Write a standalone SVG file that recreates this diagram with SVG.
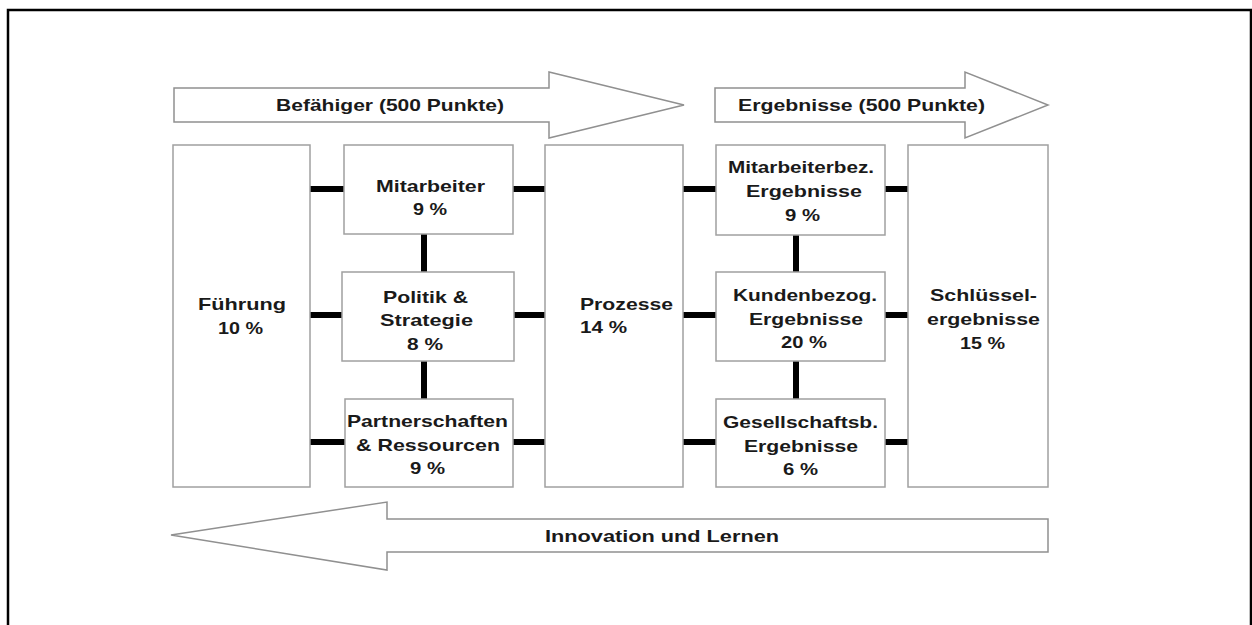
<svg xmlns="http://www.w3.org/2000/svg" width="1252" height="625" viewBox="0 0 1252 625">
<style>
.box{fill:#fff;stroke:#a0a0a0;stroke-width:1.5}
.arr{fill:#fff;stroke:#909090;stroke-width:1.5}
.con{stroke:#000;stroke-width:6;fill:none}
text{font-family:"Liberation Sans",Arial,sans-serif;font-weight:bold;font-size:17px;fill:#1a1a1a}
</style>
<rect width="1252" height="625" fill="#fff"/>
<path d="M8,626 V10 H1251 V626" fill="none" stroke="#000" stroke-width="2.5"/>

<g id="arrow-befaehiger">
<polygon class="arr" points="174,88 549,88 549,72 684,105 549,138 549,122 174,122"/>
<text x="276" y="111" textLength="228" lengthAdjust="spacingAndGlyphs">Befähiger (500 Punkte)</text>
</g>
<g id="arrow-ergebnisse">
<polygon class="arr" points="715,88 965,88 965,72 1048,105 965,138 965,122 715,122"/>
<text x="738" y="111" textLength="247" lengthAdjust="spacingAndGlyphs">Ergebnisse (500 Punkte)</text>
</g>
<g id="arrow-innovation">
<polygon class="arr" points="1048,519 387,519 387,502 171,535 387,570 387,552 1048,552"/>
<text x="545" y="542" textLength="234" lengthAdjust="spacingAndGlyphs">Innovation und Lernen</text>
</g>

<g id="connectors">
<line class="con" x1="310" y1="189" x2="344" y2="189"/>
<line class="con" x1="310" y1="315" x2="342" y2="315"/>
<line class="con" x1="310" y1="442" x2="345" y2="442"/>
<line class="con" x1="513" y1="189" x2="545" y2="189"/>
<line class="con" x1="514" y1="315" x2="545" y2="315"/>
<line class="con" x1="513" y1="442" x2="545" y2="442"/>
<line class="con" x1="424" y1="234" x2="424" y2="272"/>
<line class="con" x1="424" y1="361" x2="424" y2="399"/>
<line class="con" x1="683" y1="189" x2="716" y2="189"/>
<line class="con" x1="683" y1="315" x2="716" y2="315"/>
<line class="con" x1="683" y1="442" x2="716" y2="442"/>
<line class="con" x1="885" y1="189" x2="908" y2="189"/>
<line class="con" x1="885" y1="315" x2="908" y2="315"/>
<line class="con" x1="885" y1="442" x2="908" y2="442"/>
<line class="con" x1="796" y1="235" x2="796" y2="272"/>
<line class="con" x1="796" y1="361" x2="796" y2="399"/>
</g>

<g id="fuehrung">
<rect class="box" x="173" y="145" width="137" height="342"/>
<text x="198" y="310" textLength="88" lengthAdjust="spacingAndGlyphs">Führung</text>
<text x="218" y="334" textLength="45" lengthAdjust="spacingAndGlyphs">10 %</text>
</g>
<g id="mitarbeiter">
<rect class="box" x="344" y="145" width="169" height="89"/>
<text x="376" y="192" textLength="109" lengthAdjust="spacingAndGlyphs">Mitarbeiter</text>
<text x="413" y="215" textLength="34" lengthAdjust="spacingAndGlyphs">9 %</text>
</g>
<g id="politik">
<rect class="box" x="342" y="272" width="172" height="89"/>
<text x="383" y="303" textLength="85" lengthAdjust="spacingAndGlyphs">Politik &amp;</text>
<text x="380" y="326" textLength="93" lengthAdjust="spacingAndGlyphs">Strategie</text>
<text x="407" y="350" textLength="36" lengthAdjust="spacingAndGlyphs">8 %</text>
</g>
<g id="partnerschaften">
<rect class="box" x="345" y="399" width="168" height="88"/>
<text x="347" y="427" textLength="161" lengthAdjust="spacingAndGlyphs">Partnerschaften</text>
<text x="356" y="451" textLength="144" lengthAdjust="spacingAndGlyphs">&amp; Ressourcen</text>
<text x="410" y="474" textLength="35" lengthAdjust="spacingAndGlyphs">9 %</text>
</g>
<g id="prozesse">
<rect class="box" x="545" y="145" width="138" height="342"/>
<text x="580" y="310" textLength="93" lengthAdjust="spacingAndGlyphs">Prozesse</text>
<text x="580" y="333" textLength="47" lengthAdjust="spacingAndGlyphs">14 %</text>
</g>
<g id="mitarbeiterbez">
<rect class="box" x="716" y="145" width="169" height="90"/>
<text x="728" y="173" textLength="146" lengthAdjust="spacingAndGlyphs">Mitarbeiterbez.</text>
<text x="746" y="197" textLength="116" lengthAdjust="spacingAndGlyphs">Ergebnisse</text>
<text x="785" y="221" textLength="35" lengthAdjust="spacingAndGlyphs">9 %</text>
</g>
<g id="kundenbezog">
<rect class="box" x="716" y="272" width="169" height="89"/>
<text x="733" y="301" textLength="144" lengthAdjust="spacingAndGlyphs">Kundenbezog.</text>
<text x="749" y="325" textLength="114" lengthAdjust="spacingAndGlyphs">Ergebnisse</text>
<text x="781" y="348" textLength="46" lengthAdjust="spacingAndGlyphs">20 %</text>
</g>
<g id="gesellschaftsb">
<rect class="box" x="716" y="399" width="169" height="88"/>
<text x="723" y="428" textLength="155" lengthAdjust="spacingAndGlyphs">Gesellschaftsb.</text>
<text x="744" y="452" textLength="114" lengthAdjust="spacingAndGlyphs">Ergebnisse</text>
<text x="783" y="475" textLength="35" lengthAdjust="spacingAndGlyphs">6 %</text>
</g>
<g id="schluesselergebnisse">
<rect class="box" x="908" y="145" width="140" height="342"/>
<text x="930" y="301" textLength="107" lengthAdjust="spacingAndGlyphs">Schlüssel-</text>
<text x="927" y="325" textLength="113" lengthAdjust="spacingAndGlyphs">ergebnisse</text>
<text x="960" y="349" textLength="45" lengthAdjust="spacingAndGlyphs">15 %</text>
</g>
</svg>
